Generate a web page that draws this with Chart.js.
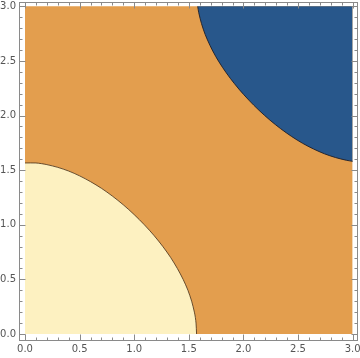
<!DOCTYPE html>
<html>
<head>
<meta charset="utf-8">
<script src="https://cdn.jsdelivr.net/npm/chart.js@4/dist/chart.umd.min.js"></script>
<style>
html,body{margin:0;padding:0;background:#fff;}
#wrap{width:360px;height:358px;}
</style>
</head>
<body>
<div id="wrap"><canvas id="c" width="360" height="358"></canvas></div>
<script>
// Region boundaries
const lowerX = [0.000,0.100,0.150,0.200,0.300,0.400,0.500,0.600,0.700,0.800,0.900,1.000,1.093,1.183,1.263,1.334,1.395,1.448,1.492,1.526,1.551,1.560,1.566,1.571];
const lowerY = [1.566,1.566,1.560,1.551,1.526,1.492,1.448,1.395,1.334,1.263,1.183,1.093,1.000,0.900,0.800,0.700,0.600,0.500,0.400,0.300,0.200,0.150,0.100,0.000];
const upperX = [1.581,1.591,1.616,1.650,1.694,1.746,1.808,1.879,1.959,2.049,2.142,2.242,2.342,2.442,2.542,2.642,2.742,2.842,2.942,3.000];
const upperY = [3.000,2.942,2.842,2.742,2.642,2.542,2.442,2.342,2.242,2.142,2.049,1.959,1.879,1.808,1.746,1.694,1.650,1.616,1.591,1.581];
const plotX = [0, 3];
const plotY = [3, 3];
const majorTicks = [0, 0.5, 1, 1.5, 2, 2.5, 3];
const tickLabels = ['0.0','0.5','1.0','1.5','2.0','2.5','3.0'];

const pts = (xs, ys) => xs.map((x, i) => ({x: x, y: ys[i]}));
const allTicks = [];
for (let i = 0; i <= 30; i++) allTicks.push(i / 10);
const isMajor = v => majorTicks.some(m => Math.abs(m - v) < 1e-6);
const labelFor = v => { const k = majorTicks.findIndex(m => Math.abs(m - v) < 1e-6); return k >= 0 ? tickLabels[k] : ''; };

const frameColor = '#8a8a8a';
const textColor = '#555555';
const setTicks = s => { s.ticks = allTicks.map(v => ({value: v})); };

function axis(pos, size, showLabels, padding) {
  return {
    type: 'linear', position: pos, min: -0.055, max: 3.04,
    afterBuildTicks: setTicks,
    afterFit: s => {
      if (pos === 'top' || pos === 'bottom') s.height = size; else s.width = size;
      s.paddingLeft = 0; s.paddingRight = 0; s.paddingTop = 0; s.paddingBottom = 0;
    },
    border: {display: true, color: frameColor, width: 1},
    grid: {drawOnChartArea: false, drawTicks: false, tickLength: 0},
    ticks: {
      display: showLabels, autoSkip: false, maxRotation: 0, padding: padding,
      color: textColor, font: {family: 'DejaVu Sans', size: 10},
      callback: v => labelFor(v)
    },
    z: 1
  };
}

// inward frame ticks, placed by each scale
const frameTicks = {
  id: 'frameTicks',
  afterDraw(chart) {
    const ctx = chart.ctx;
    ctx.save();
    ctx.strokeStyle = frameColor;
    ctx.lineWidth = 1;
    Object.values(chart.scales).forEach(s => {
      s.ticks.forEach(t => {
        const len = isMajor(t.value) ? 6 : 3;
        const p = Math.round(s.getPixelForValue(t.value)) + 0.5;
        ctx.beginPath();
        if (s.position === 'left') { const b = Math.round(s.right) + 0.5; ctx.moveTo(b, p); ctx.lineTo(b + len, p); }
        else if (s.position === 'right') { const b = Math.round(s.left) + 0.5; ctx.moveTo(b, p); ctx.lineTo(b - len, p); }
        else if (s.position === 'bottom') { const b = Math.round(s.top) + 0.5; ctx.moveTo(p, b); ctx.lineTo(p, b - len); }
        else { const b = Math.round(s.bottom) + 0.5; ctx.moveTo(p, b); ctx.lineTo(p, b + len); }
        ctx.stroke();
      });
    });
    ctx.restore();
  }
};

new Chart(document.getElementById('c'), {
  type: 'scatter',
  data: {
    datasets: [
      {data: pts(lowerX, lowerY), showLine: true, fill: {value: 0}, backgroundColor: '#fdf1c1',
       borderColor: 'rgba(80,55,30,0.85)', borderWidth: 1, pointRadius: 0, tension: 0.3, order: 1},
      {data: pts(upperX, upperY), showLine: true, fill: {value: 3}, backgroundColor: '#28578b',
       borderColor: 'rgba(30,30,40,0.9)', borderWidth: 1, pointRadius: 0, tension: 0.3, order: 1},
      {data: pts(plotX, plotY), showLine: true, fill: {value: 0}, backgroundColor: '#e39e4e',
       borderWidth: 0, borderColor: 'rgba(0,0,0,0)', pointRadius: 0, order: 2}
    ]
  },
  plugins: [frameTicks],
  options: {
    responsive: false, animation: false,
    layout: {padding: 0},
    plugins: {legend: {display: false}, tooltip: {enabled: false}},
    scales: {
      x: axis('bottom', 18, true, 3),
      xTop: axis('top', 2, false, 0),
      y: axis('left', 19, true, 3),
      yRight: axis('right', 3, false, 0)
    }
  }
});
</script>
</body>
</html>
